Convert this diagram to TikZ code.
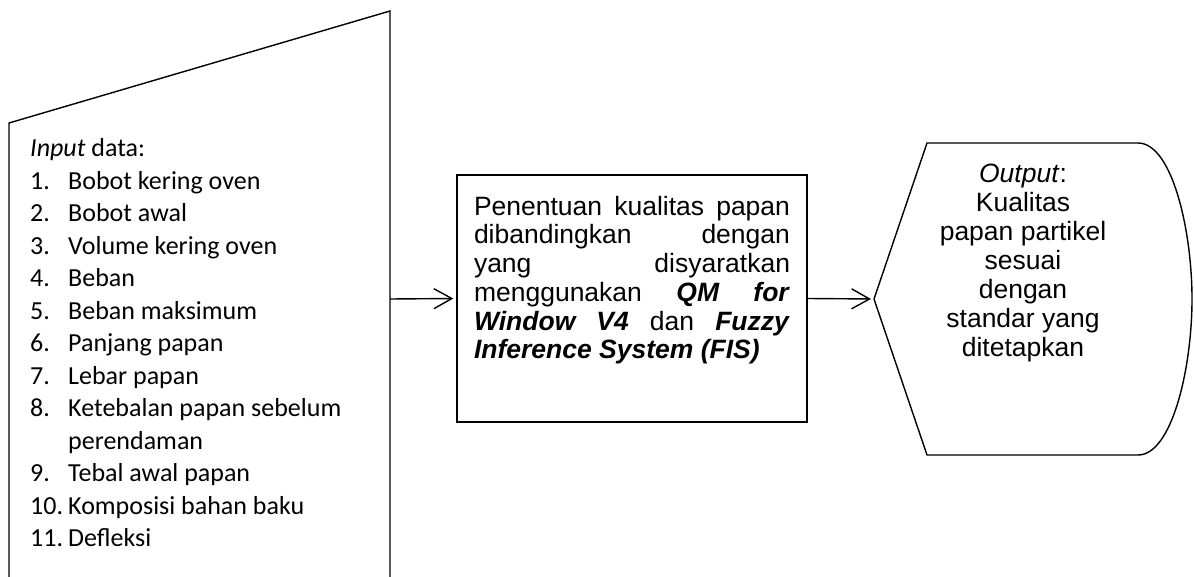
\documentclass[tikz,border=0pt]{standalone}
\usepackage{fontspec}
\setmainfont{Liberation Sans}
\newfontfamily\calibrifont{Carlito}
\usetikzlibrary{arrows.meta, positioning}
\hbadness=10000

\tikzset{
  edge/.style={line width=1.4pt, line join=miter},
  flowarrow/.style={line width=1.4pt, shorten >=3pt,
    -{Straight Barb[length=18pt, width=20pt, line width=1.4pt]}},
  procbox/.style={draw, edge, inner xsep=17pt, inner ysep=21pt,
    font=\fontsize{26.5}{28.7}\selectfont},
}

\begin{document}
\begin{tikzpicture}[x=1pt, y=-1pt]
\useasboundingbox (0,0) rectangle (1194,577);

% manual input shape, open at the bottom of the page
\coordinate (inBL) at (9,590);
\coordinate (inTL) at (9,123);
\coordinate (inTR) at (390,11);
\coordinate (inBR) at (390,590);
\coordinate (inOut) at (390,299);
\draw[edge] (inBL) -- (inTL) -- (inTR) -- (inBR);
\node[anchor=base west, inner sep=0pt,
  font=\calibrifont\fontsize{26}{32.5}\selectfont] (inList) at (30,157)
{\begin{tabular}[t]{@{}p{38pt}@{}l@{}}
\multicolumn{2}{@{}l@{}}{\textit{Input} data:}\\
1. & Bobot kering oven\\
2. & Bobot awal\\
3. & Volume kering oven\\
4. & Beban\\
5. & Beban maksimum\\
6. & Panjang papan\\
7. & Lebar papan\\
8. & Ketebalan papan sebelum\\
   & perendaman\\
9. & Tebal awal papan\\
10. & Komposisi bahan baku\\
11. & Defleksi
\end{tabular}};

% process
\node[procbox] (proc) at (632,298.5)
{\parbox[t][205pt][t]{316pt}{Penentuan kualitas papan\linebreak
dibandingkan dengan\linebreak
yang disyaratkan\linebreak
menggunakan \textbf{\textit{QM for}}\linebreak
\textbf{\textit{Window V4}} dan \textbf{\textit{Fuzzy}}\linebreak
\textbf{\textit{Inference System (FIS)}}}};

% display shape
\coordinate (outL) at (874,299);
\coordinate (outTL) at (927,143);
\coordinate (outTR) at (1138,143);
\coordinate (outR) at (1192,299);
\coordinate (outBR) at (1138,455);
\coordinate (outBL) at (927,455);
\draw[edge] (outL) -- (outTL) -- (outTR)
  .. controls (1172,143) and (1192,230) .. (outR)
  .. controls (1192,368) and (1172,455) .. (outBR) -- (outBL) -- cycle;
\node[anchor=base, inner sep=0pt,
  font=\fontsize{26.5}{29}\selectfont] (outTxt) at (1023,183)
{\begin{tabular}[t]{@{}c@{}}
\textit{Output}:\\
Kualitas\\
papan partikel\\
sesuai\\
dengan\\
standar yang\\
ditetapkan
\end{tabular}};

\draw[flowarrow] (inOut) -- (proc.west);
\draw[flowarrow] (proc.east) -- (outL);
\end{tikzpicture}
\end{document}
